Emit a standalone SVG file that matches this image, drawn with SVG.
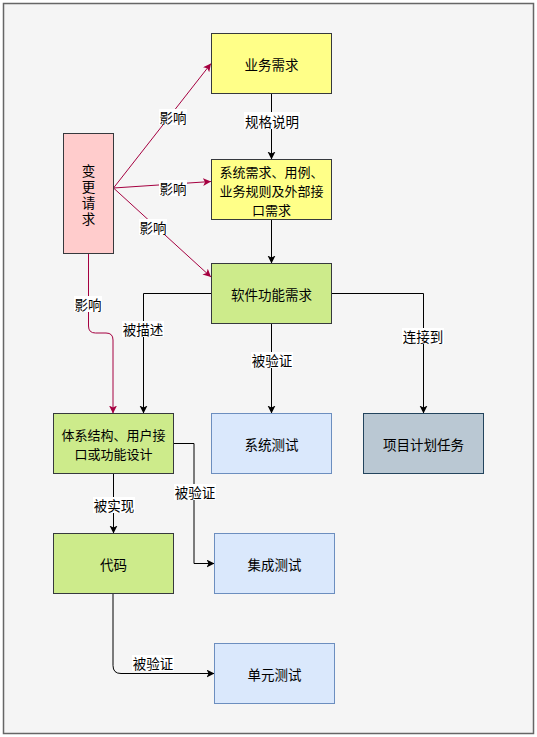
<svg xmlns="http://www.w3.org/2000/svg" width="537" height="737" viewBox="0 0 537 737">
<style>
.t{font-family:"Noto Sans CJK SC","Noto Sans",sans-serif;font-size:13.5px;fill:#000;text-anchor:middle;dominant-baseline:central}
.m{font-size:13px}
.v{font-family:"Noto Sans CJK SC","Noto Sans",sans-serif;font-size:13.5px;fill:#000;text-anchor:middle;writing-mode:vertical-rl;letter-spacing:2.3px}
.e{fill:none;stroke:#000;stroke-width:1}
.r{fill:none;stroke:#A50040;stroke-width:1}
.lb{fill:#ffffff}
.y{fill:#ffff88;stroke:#36393d}
.p{fill:#ffcccc;stroke:#36393d}
.g{fill:#cdeb8b;stroke:#36393d}
.b{fill:#dae8fc;stroke:#6c8ebf}
.s{fill:#bac8d3;stroke:#23445d}
</style>
<defs>
<marker id="ab" markerUnits="userSpaceOnUse" markerWidth="9" markerHeight="9" refX="8" refY="4" orient="auto" viewBox="0 0 9 9">
<path d="M0,0 L8,4 L0,8 L2,4 z" fill="#000"/>
</marker>
<marker id="ar" markerUnits="userSpaceOnUse" markerWidth="9" markerHeight="9" refX="8" refY="4" orient="auto" viewBox="0 0 9 9">
<path d="M0,0 L8,4 L0,8 L2,4 z" fill="#A50040"/>
</marker>
</defs>
<rect x="3.5" y="3.5" width="530" height="730" fill="#f5f5f5" stroke="#666666" stroke-width="1.5"/>
<g id="connectors">
<path class="e" d="M271.5,93.5 L271.5,159.5" marker-end="url(#ab)"/>
<path class="e" d="M271.5,219.5 L271.5,263.5" marker-end="url(#ab)"/>
<path class="r" d="M113.5,188 L211,63.5" marker-end="url(#ar)"/>
<path class="r" d="M113.5,188 L211,181.5" marker-end="url(#ar)"/>
<path class="r" d="M113.5,188 L211,277" marker-end="url(#ar)"/>
<path class="r" d="M88.5,253.5 L88.5,326 Q88.5,333 95.5,333 L106,333 Q113,333 113,340 L113,413.5" marker-end="url(#ar)"/>
<path class="e" d="M211,293.5 L143.5,293.5 L143.5,413.5" marker-end="url(#ab)"/>
<path class="e" d="M271.5,323.5 L271.5,413.5" marker-end="url(#ab)"/>
<path class="e" d="M331,293.5 L423.5,293.5 L423.5,413.5" marker-end="url(#ab)"/>
<path class="e" d="M173.5,443.5 L194,443.5 L194,563.5 L214.5,563.5" marker-end="url(#ab)"/>
<path class="e" d="M113.5,473.5 L113.5,533.5" marker-end="url(#ab)"/>
<path class="e" d="M113,593.5 L113,665.5 Q113,673.5 121,673.5 L214.5,673.5" marker-end="url(#ab)"/>
<rect class="lb" x="244" y="112" width="56" height="17"/>
<text class="t" x="272" y="120.5">规格说明</text>
<rect class="lb" x="159" y="109" width="28" height="16"/>
<text class="t" x="173" y="117">影响</text>
<rect class="lb" x="159" y="180" width="28" height="16"/>
<text class="t" x="173" y="188">影响</text>
<rect class="lb" x="139" y="219" width="28" height="16"/>
<text class="t" x="153" y="227">影响</text>
<rect class="lb" x="74" y="296" width="28" height="16"/>
<text class="t" x="88" y="304">影响</text>
<rect class="lb" x="122" y="321" width="42" height="16"/>
<text class="t" x="143" y="329">被描述</text>
<rect class="lb" x="251" y="352" width="42" height="16"/>
<text class="t" x="272" y="360">被验证</text>
<rect class="lb" x="402" y="328" width="42" height="16"/>
<text class="t" x="423" y="336">连接到</text>
<rect class="lb" x="174" y="484" width="42" height="16"/>
<text class="t" x="195" y="492">被验证</text>
<rect class="lb" x="93" y="497" width="42" height="16"/>
<text class="t" x="114" y="505">被实现</text>
<rect class="lb" x="132" y="655" width="42" height="16"/>
<text class="t" x="153" y="663">被验证</text>
</g>
<g id="n-business"><rect class="y" x="211.5" y="33.5" width="120" height="60"/><text class="t" x="271.5" y="63.5">业务需求</text></g>
<g id="n-system-req"><rect class="y" x="211.5" y="159.5" width="120" height="60"/><text class="t m" x="271.5" y="170.5"><tspan x="271.5" y="170.5">系统需求、用例、</tspan><tspan x="271.5" y="189.5">业务规则及外部接</tspan><tspan x="271.5" y="208.5">口需求</tspan></text></g>
<g id="n-change"><rect class="p" x="63.5" y="133.5" width="50" height="120"/><text class="v" x="88.5" y="196">变更请求</text></g>
<g id="n-software"><rect class="g" x="211.5" y="263.5" width="120" height="60"/><text class="t" x="271.5" y="293.5">软件功能需求</text></g>
<g id="n-arch"><rect class="g" x="53.5" y="413.5" width="120" height="60"/><text class="t m" x="113.5" y="434"><tspan x="113.5" y="434">体系结构、用户接</tspan><tspan x="113.5" y="453">口或功能设计</tspan></text></g>
<g id="n-systest"><rect class="b" x="211.5" y="413.5" width="120" height="60"/><text class="t" x="271.5" y="443.5">系统测试</text></g>
<g id="n-plan"><rect class="s" x="363.5" y="413.5" width="120" height="60"/><text class="t" x="423.5" y="443.5">项目计划任务</text></g>
<g id="n-code"><rect class="g" x="53.5" y="533.5" width="120" height="60"/><text class="t" x="113.5" y="563.5">代码</text></g>
<g id="n-inttest"><rect class="b" x="214.5" y="533.5" width="120" height="60"/><text class="t" x="274.5" y="563.5">集成测试</text></g>
<g id="n-unittest"><rect class="b" x="214.5" y="643.5" width="120" height="60"/><text class="t" x="274.5" y="673.5">单元测试</text></g>
</svg>
